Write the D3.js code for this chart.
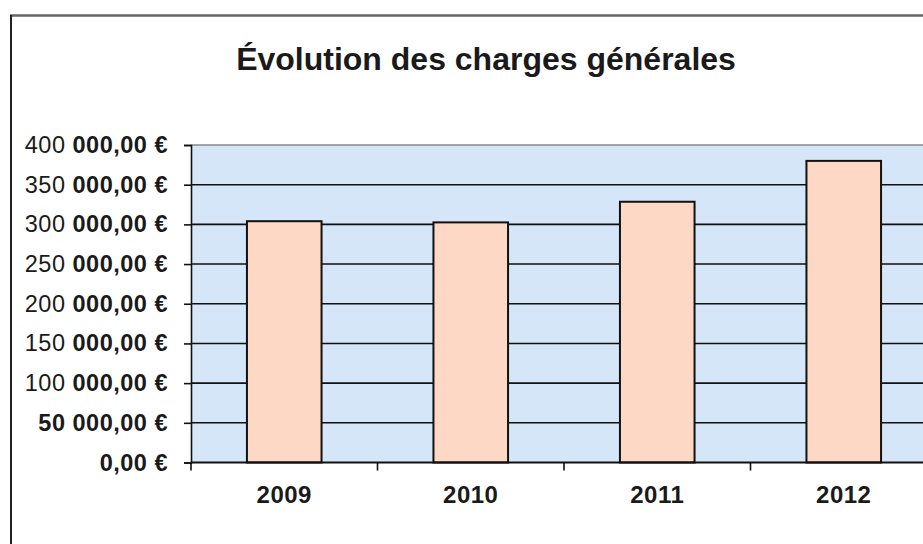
<!DOCTYPE html>
<html>
<head>
<meta charset="utf-8">
<script src="https://cdn.jsdelivr.net/npm/d3@7"></script>
<style>
  body { margin: 0; background: #fff; }
  text { font-family: "Liberation Sans", Arial, sans-serif; }
</style>
</head>
<body>
<script>

// Chart data
var years = ["2009", "2010", "2011", "2012"];
var charges = [304000, 302500, 328500, 380000];
var yTicks = [0, 50000, 100000, 150000, 200000, 250000, 300000, 350000, 400000];
var title = "Évolution des charges générales";

const width = 923;
const height = 544;
const marginTop = 145;
const marginLeft = 191;
const plotBottom = 462.5;
const bandWidth = 186.5;

// x scale: one band per year, plot runs past the right edge of the picture
const x = d3.scaleBand(years, [marginLeft, marginLeft + bandWidth * years.length])
    .paddingInner(0.6)
    .paddingOuter(0.3);

const y = d3.scaleLinear([0, 400000], [plotBottom, marginTop]);

const svg = d3.create("svg")
    .attr("width", width)
    .attr("height", height)
    .attr("viewBox", [0, 0, width, height]);

// Outer frame (top and left border of the scanned chart)
svg.append("line")
    .attr("x1", 10).attr("x2", width)
    .attr("y1", 15.5).attr("y2", 15.5)
    .attr("stroke", "#666").attr("stroke-width", 2.5);
svg.append("line")
    .attr("x1", 11).attr("x2", 11)
    .attr("y1", 15).attr("y2", height)
    .attr("stroke", "#222").attr("stroke-width", 2);

// Title
svg.append("text")
    .attr("x", 486)
    .attr("y", 70)
    .attr("text-anchor", "middle")
    .attr("font-size", "32px")
    .attr("font-weight", "bold")
    .attr("fill", "#1a1a1a")
    .text(title);

// Plot background
svg.append("rect")
    .attr("x", marginLeft)
    .attr("y", marginTop)
    .attr("width", width - marginLeft)
    .attr("height", plotBottom - marginTop)
    .attr("fill", "#d5e6f8");

// top border of plot area
svg.append("line")
    .attr("x1", marginLeft).attr("x2", width)
    .attr("y1", marginTop).attr("y2", marginTop)
    .attr("stroke", "#888").attr("stroke-width", 1.5);

// Gridlines
svg.append("g")
    .selectAll("line")
    .data(yTicks.filter(d => d > 0 && d < 400000))
    .join("line")
    .attr("x1", marginLeft).attr("x2", width)
    .attr("y1", d => y(d)).attr("y2", d => y(d))
    .attr("stroke", "#111").attr("stroke-width", 1.6);

// Bars
svg.append("g")
    .selectAll("rect")
    .data(years)
    .join("rect")
    .attr("x", d => x(d))
    .attr("y", (d, i) => y(charges[i]))
    .attr("width", x.bandwidth())
    .attr("height", (d, i) => y(0) - y(charges[i]))
    .attr("fill", "#fcd8c5")
    .attr("stroke", "#111")
    .attr("stroke-width", 2);

// y axis
svg.append("g")
    .attr("transform", `translate(${marginLeft},0)`)
    .call(d3.axisLeft(y).tickValues(yTicks).tickSize(7).tickFormat(""))
    .call(g => g.select(".domain").attr("stroke", "#111").attr("stroke-width", 1.6))
    .call(g => g.selectAll(".tick line").attr("stroke", "#111").attr("stroke-width", 1.6));

// y tick labels: scanned look, first group lighter than the rest
function frParts(v) {
    var s = d3.format(",.2f")(v).replace(/,/g, " ").replace(".", ",");
    var i = s.indexOf(" ");
    return i < 0 ? ["", s] : [s.slice(0, i), s.slice(i)];
}
svg.append("g")
    .selectAll("text")
    .data(yTicks)
    .join("text")
    .attr("x", 168)
    .attr("y", d => y(d) + 8)
    .attr("text-anchor", "end")
    .attr("font-size", "23.5px")
    .attr("letter-spacing", "0.5px")
    .attr("fill", "#1a1a1a")
    .each(function(d) {
        var p = frParts(d);
        var t = d3.select(this);
        t.append("tspan").attr("font-weight", d >= 100000 ? "normal" : "bold").text(p[0]);
        t.append("tspan").attr("font-weight", "bold").text(p[1] + " €");
    });

// x axis
const xBounds = d3.range(years.length + 1).map(i => marginLeft + i * bandWidth);
svg.append("line")
    .attr("x1", marginLeft).attr("x2", width)
    .attr("y1", plotBottom).attr("y2", plotBottom)
    .attr("stroke", "#111").attr("stroke-width", 2);
svg.append("g")
    .selectAll("line")
    .data(xBounds)
    .join("line")
    .attr("x1", d => d).attr("x2", d => d)
    .attr("y1", plotBottom).attr("y2", plotBottom + 8)
    .attr("stroke", "#111").attr("stroke-width", 1.6);

svg.append("g")
    .selectAll("text")
    .data(years)
    .join("text")
    .attr("x", d => x(d) + x.bandwidth() / 2)
    .attr("y", 503)
    .attr("text-anchor", "middle")
    .attr("font-size", "24px")
    .attr("font-weight", "bold")
    .attr("letter-spacing", "0.5px")
    .attr("fill", "#1a1a1a")
    .text(d => d);

document.body.appendChild(svg.node());

</script>
</body>
</html>
